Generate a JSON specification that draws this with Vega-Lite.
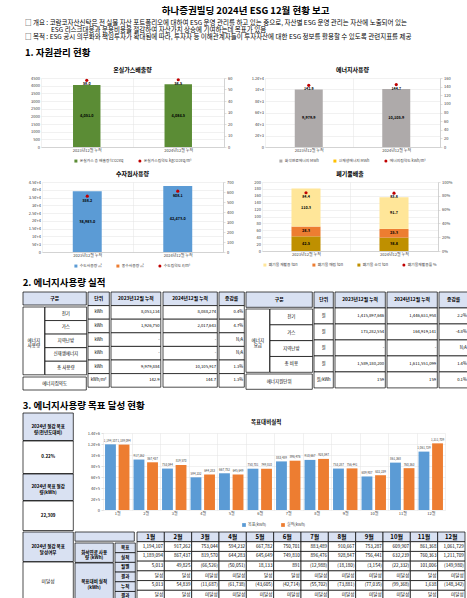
{
  "$schema": "https://vega.github.io/schema/vega-lite/v6.json",
  "background": "white",
  "padding": {"left": 22, "right": 2, "top": 5, "bottom": 0},
  "title": {"text": "하나증권빌딩 2024년 ESG 12월 현황 보고", "fontSize": 9.5, "fontWeight": "bold", "anchor": "middle", "offset": 5, "frame": "bounds"},
  "config": {
    "font": "Noto Sans CJK KR",
    "view": {"stroke": null},
    "title": {"font": "Noto Sans CJK KR", "color": "black", "fontSize": 6, "fontWeight": "bold", "frame": "group", "subtitleFont": "Noto Sans CJK KR"},
    "axis": {"labelFont": "Noto Sans CJK KR", "labelFontSize": 4, "labelColor": "#404040", "gridColor": "#e2e2e2", "gridWidth": 0.5, "domainColor": "#bfbfbf", "domainWidth": 0.6, "tickColor": "#bfbfbf", "tickSize": 2, "tickWidth": 0.5, "labelPadding": 1.5},
    "legend": {"labelFont": "Noto Sans CJK KR", "labelFontSize": 3.8, "labelColor": "#404040", "symbolSize": 9, "orient": "bottom", "direction": "horizontal", "columnPadding": 14, "symbolStrokeWidth": 0, "offset": 6, "labelOffset": 2, "layout": {"bottom": {"anchor": "middle"}}},
    "text": {"font": "Noto Sans CJK KR", "color": "black"}
  },
  "spacing": 10,
  "resolve": {"scale": {"color": "independent", "shape": "independent"}},
  "vconcat": [
    {
      "title": {"text": ["□ 개요 : 코람코자산신탁은 전 실물 자산 포트폴리오에 대하여 ESG 운영 관리를 하고 있는 중으로, 자산별 ESG 운영 관리는 자산에 노출되어 있는", "\u200b　　　　ESG 리스크대응과 운용비용을 절감하여 자산가치 상승에 기여하는데 목표가 있음", "□ 목적 : ESG 공시 의무화와 책임투자가 확대됨에 따라, 투자자 등 이해관계자들이 투자자산에 대한 ESG 정보를 활용할 수 있도록 관련지표를 제공"], "fontSize": 6.5, "fontWeight": "normal", "lineHeight": 6.8, "anchor": "start", "frame": "bounds", "offset": 10, "dx": 2, "subtitle": "1. 자원관리 현황", "subtitleFontSize": 9.5, "subtitleFontWeight": "bold", "subtitleColor": "black", "subtitlePadding": 7},
      "spacing": 8,
      "resolve": {"scale": {"color": "independent", "shape": "independent"}},
      "vconcat": [
        {
          "spacing": 6,
          "resolve": {"scale": {"color": "independent", "shape": "independent"}},
          "hconcat": [
            {"width": 1, "height": 1, "data": {"values": [{"a": 1}]}, "mark": {"type": "rect", "opacity": 0}},
            {
              "spacing": 19,
              "resolve": {"scale": {"color": "independent", "shape": "independent"}},
              "hconcat": [
                {
                  "width": 183, "height": 69,
                  "title": {"text": "온실가스배출량", "offset": 3},
                  "data": {"values": [
                    {"p": "2023년12월 누적", "s": "온실가스 총 배출량 tCO2eq", "v": 4051.0},
                    {"p": "2024년12월 누적", "s": "온실가스 총 배출량 tCO2eq", "v": 4084.5},
                    {"p": "2023년12월 누적", "s": "온실가스집약도 kgCO2eq/m²", "v": 58.0},
                    {"p": "2024년12월 누적", "s": "온실가스집약도 kgCO2eq/m²", "v": 58.5}
                  ]},
                  "encoding": {"x": {"field": "p", "type": "nominal", "sort": null, "scale": {"paddingInner": 0, "paddingOuter": 0}, "axis": {"title": null, "labelAngle": 0, "grid": true, "tickBand": "extent", "ticks": false}}},
                  "layer": [
                    {
                      "transform": [{"filter": "datum.s === '온실가스 총 배출량 tCO2eq'"}],
                      "encoding": {"y": {"field": "v", "type": "quantitative", "scale": {"domain": [0, 4500]}, "axis": {"title": null, "values": [0, 500, 1000, 1500, 2000, 2500, 3000, 3500, 4000, 4500], "format": "d", "domain": false, "ticks": false}}},
                      "layer": [
                        {"mark": {"type": "bar", "width": {"band": 0.3}}, "encoding": {"color": {"field": "s", "type": "nominal", "scale": {"domain": ["온실가스 총 배출량 tCO2eq", "온실가스집약도 kgCO2eq/m²"], "range": ["#5b8c35", "#c00000"]}, "legend": {"title": null}}}},
                        {"mark": {"type": "text", "fontSize": 3.8, "fontWeight": "bold", "dy": {"expr": "datum.v * 69 / 9000"}}, "encoding": {"text": {"field": "v", "format": ",.1f"}}}
                      ]
                    },
                    {
                      "transform": [{"filter": "datum.s === '온실가스집약도 kgCO2eq/m²'"}],
                      "encoding": {"y": {"field": "v", "type": "quantitative", "scale": {"domain": [0, 60]}, "axis": {"title": null, "orient": "right", "values": [0, 10, 20, 30, 40, 50, 60], "grid": false}}},
                      "layer": [
                        {"mark": {"type": "point", "filled": true, "size": 10, "opacity": 1}, "encoding": {
                          "color": {"field": "s", "type": "nominal", "scale": {"domain": ["온실가스 총 배출량 tCO2eq", "온실가스집약도 kgCO2eq/m²"], "range": ["#5b8c35", "#c00000"]}, "legend": {"title": null}},
                          "shape": {"field": "s", "type": "nominal", "scale": {"domain": ["온실가스 총 배출량 tCO2eq", "온실가스집약도 kgCO2eq/m²"], "range": ["square", "circle"]}, "legend": {"title": null}}}},
                        {"mark": {"type": "text", "fontSize": 3.6, "fontWeight": "bold", "dy": 4}, "encoding": {"text": {"field": "v", "format": ".1f"}}}
                      ]
                    }
                  ],
                  "resolve": {"scale": {"y": "independent"}}
                },
                {
                  "width": 175, "height": 69,
                  "title": {"text": "에너지사용량", "offset": 3},
                  "data": {"values": [
                    {"p": "2023년12월 누적", "s": "화석연료에너지 MWh", "v": 9979.9},
                    {"p": "2024년12월 누적", "s": "화석연료에너지 MWh", "v": 10105.9},
                    {"p": "2023년12월 누적", "s": "에너지집약도 kWh/m²", "v": 142.9},
                    {"p": "2024년12월 누적", "s": "에너지집약도 kWh/m²", "v": 144.7}
                  ]},
                  "encoding": {"x": {"field": "p", "type": "nominal", "sort": null, "scale": {"paddingInner": 0, "paddingOuter": 0}, "axis": {"title": null, "labelAngle": 0, "grid": true, "tickBand": "extent", "ticks": false}}},
                  "layer": [
                    {
                      "transform": [{"filter": "datum.s !== '에너지집약도 kWh/m²'"}],
                      "encoding": {"y": {"field": "v", "type": "quantitative", "scale": {"domain": [0, 12000]}, "axis": {"title": null, "values": [0, 2000, 4000, 6000, 8000, 10000, 12000], "format": ",", "domain": false, "ticks": false}}},
                      "layer": [
                        {"mark": {"type": "bar", "width": {"band": 0.32}}, "encoding": {"color": {"field": "s", "type": "nominal", "scale": {"domain": ["화석연료에너지 MWh", "신재생에너지 MWh", "에너지집약도 kWh/m²"], "range": ["#aeaaaa", "#ffc000", "#c00000"]}, "legend": {"title": null}}}},
                        {"mark": {"type": "text", "fontSize": 3.8, "fontWeight": "bold", "dy": {"expr": "datum.v * 69 / 24000"}}, "encoding": {"text": {"field": "v", "format": ",.1f"}}}
                      ]
                    },
                    {
                      "transform": [{"filter": "datum.s === '에너지집약도 kWh/m²'"}],
                      "encoding": {"y": {"field": "v", "type": "quantitative", "scale": {"domain": [0, 160]}, "axis": {"title": null, "orient": "right", "values": [0, 20, 40, 60, 80, 100, 120, 140, 160], "grid": false}}},
                      "layer": [
                        {"mark": {"type": "point", "filled": true, "size": 10, "opacity": 1}, "encoding": {
                          "color": {"field": "s", "type": "nominal", "scale": {"domain": ["화석연료에너지 MWh", "신재생에너지 MWh", "에너지집약도 kWh/m²"], "range": ["#aeaaaa", "#ffc000", "#c00000"]}, "legend": {"title": null}},
                          "shape": {"field": "s", "type": "nominal", "scale": {"domain": ["화석연료에너지 MWh", "신재생에너지 MWh", "에너지집약도 kWh/m²"], "range": ["square", "square", "circle"]}, "legend": {"title": null}}}},
                        {"mark": {"type": "text", "fontSize": 3.6, "fontWeight": "bold", "dy": 4}, "encoding": {"text": {"field": "v", "format": ".1f"}}}
                      ]
                    }
                  ],
                  "resolve": {"scale": {"y": "independent"}}
                }
              ]
            }
          ]
        },
        {
          "spacing": 4,
          "resolve": {"scale": {"color": "independent", "shape": "independent"}},
          "hconcat": [
            {"width": 1, "height": 1, "data": {"values": [{"a": 1}]}, "mark": {"type": "rect", "opacity": 0}},
            {
              "spacing": 19,
              "resolve": {"scale": {"color": "independent", "shape": "independent"}},
              "hconcat": [
                {
                  "width": 181, "height": 70,
                  "title": {"text": "수자원사용량", "offset": 3},
                  "data": {"values": [
                    {"p": "2023년12월 누적", "s": "수도사용량 ㎥", "v": 38983.0},
                    {"p": "2024년12월 누적", "s": "수도사용량 ㎥", "v": 42473.0},
                    {"p": "2023년12월 누적", "s": "수도집약도 ℓ/m²", "v": 558.2},
                    {"p": "2024년12월 누적", "s": "수도집약도 ℓ/m²", "v": 608.1}
                  ]},
                  "encoding": {"x": {"field": "p", "type": "nominal", "sort": null, "scale": {"paddingInner": 0, "paddingOuter": 0}, "axis": {"title": null, "labelAngle": 0, "grid": true, "tickBand": "extent", "ticks": false}}},
                  "layer": [
                    {
                      "transform": [{"filter": "datum.s === '수도사용량 ㎥'"}],
                      "encoding": {"y": {"field": "v", "type": "quantitative", "scale": {"domain": [0, 45000]}, "axis": {"title": null, "values": [0, 5000, 10000, 15000, 20000, 25000, 30000, 35000, 40000, 45000], "format": ",", "domain": false, "ticks": false}}},
                      "layer": [
                        {"mark": {"type": "bar", "width": {"band": 0.32}}, "encoding": {"color": {"field": "s", "type": "nominal", "scale": {"domain": ["수도사용량 ㎥", "중수사용량 ㎥", "수도집약도 ℓ/m²"], "range": ["#5b9bd5", "#ed7d31", "#c00000"]}, "legend": {"title": null}}}},
                        {"mark": {"type": "text", "fontSize": 3.8, "fontWeight": "bold", "dy": {"expr": "datum.v * 70 / 90000"}}, "encoding": {"text": {"field": "v", "format": ",.1f"}}}
                      ]
                    },
                    {
                      "transform": [{"filter": "datum.s === '수도집약도 ℓ/m²'"}],
                      "encoding": {"y": {"field": "v", "type": "quantitative", "scale": {"domain": [0, 700]}, "axis": {"title": null, "orient": "right", "values": [0, 100, 200, 300, 400, 500, 600, 700], "grid": false}}},
                      "layer": [
                        {"mark": {"type": "point", "filled": true, "size": 10, "opacity": 1}, "encoding": {
                          "color": {"field": "s", "type": "nominal", "scale": {"domain": ["수도사용량 ㎥", "중수사용량 ㎥", "수도집약도 ℓ/m²"], "range": ["#5b9bd5", "#ed7d31", "#c00000"]}, "legend": {"title": null}},
                          "shape": {"field": "s", "type": "nominal", "scale": {"domain": ["수도사용량 ㎥", "중수사용량 ㎥", "수도집약도 ℓ/m²"], "range": ["square", "square", "circle"]}, "legend": {"title": null}}}},
                        {"mark": {"type": "text", "fontSize": 3.6, "fontWeight": "bold", "dy": 4.5}, "encoding": {"text": {"field": "v", "format": ".1f"}}}
                      ]
                    }
                  ],
                  "resolve": {"scale": {"y": "independent"}}
                },
                {
                  "width": 176, "height": 69,
                  "title": {"text": "폐기물배출", "offset": 3},
                  "data": {"values": [
                    {"p": "2023년12월 누적", "type": "incineration", "s": "폐기물 소각 ton", "v": 42.5},
                    {"p": "2023년12월 누적", "type": "landfill", "s": "폐기물 매립 ton", "v": 28.3},
                    {"p": "2023년12월 누적", "type": "recycling", "s": "폐기물 재활용 ton", "v": 110.3},
                    {"p": "2024년12월 누적", "type": "incineration", "s": "폐기물 소각 ton", "v": 38.8},
                    {"p": "2024년12월 누적", "type": "landfill", "s": "폐기물 매립 ton", "v": 25.3},
                    {"p": "2024년12월 누적", "type": "recycling", "s": "폐기물 재활용 ton", "v": 91.7},
                    {"p": "2023년12월 누적", "type": "rate", "s": "폐기물재활용률 %", "v": 84.4},
                    {"p": "2024년12월 누적", "type": "rate", "s": "폐기물재활용률 %", "v": 83.8}
                  ]},
                  "encoding": {"x": {"field": "p", "type": "nominal", "sort": null, "scale": {"paddingInner": 0, "paddingOuter": 0}, "axis": {"title": null, "labelAngle": 0, "grid": true, "tickBand": "extent", "ticks": false}}},
                  "layer": [
                    {
                      "transform": [{"filter": "datum.type !== 'rate'"}],
                      "encoding": {"y": {"field": "v", "type": "quantitative", "stack": "zero", "scale": {"domain": [0, 200]}, "axis": {"title": null, "values": [0, 20, 40, 60, 80, 100, 120, 140, 160, 180, 200], "format": "d", "domain": false, "ticks": false}}, "order": {"field": "type", "sort": "ascending"}},
                      "layer": [
                        {"mark": {"type": "bar", "width": {"band": 0.33}}, "encoding": {"color": {"field": "s", "type": "nominal", "scale": {"domain": ["폐기물 재활용 ton", "폐기물 매립 ton", "폐기물 소각 ton", "폐기물재활용률 %"], "range": ["#ffe699", "#ed7d31", "#bf9000", "#c00000"]}, "legend": {"title": null}}}},
                        {"mark": {"type": "text", "fontSize": 3.8, "fontWeight": "bold", "dy": {"expr": "datum.v * 69 / 400"}}, "encoding": {"detail": {"field": "s"}, "text": {"field": "v", "format": ".1f"}}}
                      ]
                    },
                    {
                      "transform": [{"filter": "datum.type === 'rate'"}],
                      "encoding": {"y": {"field": "v", "type": "quantitative", "scale": {"domain": [0, 100]}, "axis": {"title": null, "orient": "right", "values": [0, 20, 40, 60, 80, 100], "labelExpr": "datum.value + '%'", "grid": false}}},
                      "layer": [
                        {"mark": {"type": "point", "filled": true, "size": 10, "opacity": 1}, "encoding": {
                          "color": {"field": "s", "type": "nominal", "scale": {"domain": ["폐기물 재활용 ton", "폐기물 매립 ton", "폐기물 소각 ton", "폐기물재활용률 %"], "range": ["#ffe699", "#ed7d31", "#bf9000", "#c00000"]}, "legend": {"title": null}},
                          "shape": {"field": "s", "type": "nominal", "scale": {"domain": ["폐기물 재활용 ton", "폐기물 매립 ton", "폐기물 소각 ton", "폐기물재활용률 %"], "range": ["square", "square", "square", "circle"]}, "legend": {"title": null}}}},
                        {"mark": {"type": "text", "fontSize": 3.6, "fontWeight": "bold", "dy": 4}, "encoding": {"text": {"field": "v", "format": ".1f"}}}
                      ]
                    }
                  ],
                  "resolve": {"scale": {"y": "independent"}}
                }
              ]
            }
          ]
        }
      ]
    },
    {
      "title": {"text": "2. 에너지사용량 실적", "fontSize": 9.5, "fontWeight": "bold", "anchor": "start", "frame": "bounds", "offset": 4},
      "spacing": 0,
      "hconcat": [
        {
          "spacing": 0,
          "hconcat": [
            {
              "spacing": 0,
              "vconcat": [
                {"width": 63.3, "height": 13, "data": {"values": [{"r": "x", "v": "구분"}]}, "encoding": {"y": {"field": "r", "type": "nominal", "scale": {"paddingInner": 0, "paddingOuter": 0}, "axis": null}}, "layer": [{"mark": {"type": "rect", "stroke": "#000", "strokeWidth": 0.7, "fill": "#d9e1f2"}}, {"mark": {"type": "text", "fontSize": 4.8, "fontWeight": "bold"}, "encoding": {"text": {"field": "v"}}}]},
                {
                  "bounds": "flush",
                  "spacing": 0,
                  "hconcat": [
                    {"width": 21.65, "height": 67.8, "data": {"values": [{"r": "x", "v": "에너지\n사용량"}]}, "encoding": {"y": {"field": "r", "type": "nominal", "scale": {"paddingInner": 0, "paddingOuter": 0}, "axis": null}}, "layer": [{"mark": {"type": "rect", "stroke": "#000", "strokeWidth": 0.7, "fill": "#ffffff"}}, {"mark": {"type": "text", "fontSize": 4.5, "lineBreak": "\n", "lineHeight": 5.6}, "encoding": {"text": {"field": "v"}}}]},
                    {
                      "width": 41.65, "height": 67.8,
                      "data": {"values": [{"r": "1", "v": "전기"}, {"r": "2", "v": "가스"}, {"r": "3", "v": "지역난방"}, {"r": "4", "v": "신재생에너지"}, {"r": "5", "v": "총 사용량"}]},
                      "encoding": {"y": {"field": "r", "type": "ordinal", "scale": {"domain": ["1", "2", "3", "4", "5"], "paddingInner": 0, "paddingOuter": 0}, "axis": null}},
                      "layer": [
                        {"mark": {"type": "rect", "stroke": "#000", "strokeWidth": 0.7, "fill": "#ffffff"}},
                        {"mark": {"type": "text", "fontSize": 4.5}, "encoding": {"text": {"field": "v"}}}
                      ]
                    }
                  ]
                },
                {"width": 63.3, "height": 13, "data": {"values": [{"r": "x", "v": "에너지집약도"}]}, "encoding": {"y": {"field": "r", "type": "nominal", "scale": {"paddingInner": 0, "paddingOuter": 0}, "axis": null}}, "layer": [{"mark": {"type": "rect", "stroke": "#000", "strokeWidth": 0.7, "fill": "#ffffff"}}, {"mark": {"type": "text", "fontSize": 4.5}, "encoding": {"text": {"field": "v"}}}]}
              ]
            },
            {
              "width": 21.3, "height": 95.2,
              "data": {"values": [{"r": "h", "v": "단위"}, {"r": "1", "v": "kWh"}, {"r": "2", "v": "kWh"}, {"r": "3", "v": "kWh"}, {"r": "4", "v": "kWh"}, {"r": "5", "v": "kWh"}, {"r": "6", "v": "kWh/m²"}]},
              "encoding": {"y": {"field": "r", "type": "ordinal", "scale": {"domain": ["h", "1", "2", "3", "4", "5", "6"], "paddingInner": 0, "paddingOuter": 0}, "axis": null}},
              "layer": [
                {"mark": {"type": "rect", "stroke": "#000", "strokeWidth": 0.7}, "encoding": {"fill": {"condition": {"test": "datum.r === 'h'", "value": "#d9e1f2"}, "value": "#ffffff"}}},
                {"transform": [{"filter": "datum.r === 'h'"}], "mark": {"type": "text", "fontSize": 4.8, "fontWeight": "bold"}, "encoding": {"text": {"field": "v"}}},
                {"transform": [{"filter": "datum.r !== 'h'"}], "mark": {"type": "text", "fontSize": 4.2}, "encoding": {"text": {"field": "v"}}}
              ]
            },
            {
              "width": 49.8, "height": 95.2,
              "data": {"values": [{"r": "h", "v": "2023년12월 누적"}, {"r": "1", "v": "8,053,134"}, {"r": "2", "v": "1,926,750"}, {"r": "3", "v": "-"}, {"r": "4", "v": "-"}, {"r": "5", "v": "9,979,884"}, {"r": "6", "v": "142.9"}]},
              "encoding": {"y": {"field": "r", "type": "ordinal", "scale": {"domain": ["h", "1", "2", "3", "4", "5", "6"], "paddingInner": 0, "paddingOuter": 0}, "axis": null}},
              "layer": [
                {"mark": {"type": "rect", "stroke": "#000", "strokeWidth": 0.7}, "encoding": {"fill": {"condition": {"test": "datum.r === 'h'", "value": "#d9e1f2"}, "value": "#ffffff"}}},
                {"transform": [{"filter": "datum.r === 'h'"}], "mark": {"type": "text", "fontSize": 4.8, "fontWeight": "bold"}, "encoding": {"text": {"field": "v"}}},
                {"transform": [{"filter": "datum.r !== 'h'"}], "mark": {"type": "text", "fontSize": 4.2, "align": "right", "dx": -1.2}, "encoding": {"x": {"datum": 1, "type": "quantitative", "scale": {"domain": [0, 1]}, "axis": null}, "text": {"field": "v"}}}
              ]
            },
            {
              "width": 54.3, "height": 95.2,
              "data": {"values": [{"r": "h", "v": "2024년12월 누적"}, {"r": "1", "v": "8,088,274"}, {"r": "2", "v": "2,017,643"}, {"r": "3", "v": "-"}, {"r": "4", "v": "-"}, {"r": "5", "v": "10,105,917"}, {"r": "6", "v": "144.7"}]},
              "encoding": {"y": {"field": "r", "type": "ordinal", "scale": {"domain": ["h", "1", "2", "3", "4", "5", "6"], "paddingInner": 0, "paddingOuter": 0}, "axis": null}},
              "layer": [
                {"mark": {"type": "rect", "stroke": "#000", "strokeWidth": 0.7}, "encoding": {"fill": {"condition": {"test": "datum.r === 'h'", "value": "#d9e1f2"}, "value": "#ffffff"}}},
                {"transform": [{"filter": "datum.r === 'h'"}], "mark": {"type": "text", "fontSize": 4.8, "fontWeight": "bold"}, "encoding": {"text": {"field": "v"}}},
                {"transform": [{"filter": "datum.r !== 'h'"}], "mark": {"type": "text", "fontSize": 4.2, "align": "right", "dx": -1.2}, "encoding": {"x": {"datum": 1, "type": "quantitative", "scale": {"domain": [0, 1]}, "axis": null}, "text": {"field": "v"}}}
              ]
            },
            {
              "width": 25.3, "height": 95.2,
              "data": {"values": [{"r": "h", "v": "증감률"}, {"r": "1", "v": "0.4%"}, {"r": "2", "v": "4.7%"}, {"r": "3", "v": "N/A"}, {"r": "4", "v": "N/A"}, {"r": "5", "v": "1.3%"}, {"r": "6", "v": "1.3%"}]},
              "encoding": {"y": {"field": "r", "type": "ordinal", "scale": {"domain": ["h", "1", "2", "3", "4", "5", "6"], "paddingInner": 0, "paddingOuter": 0}, "axis": null}},
              "layer": [
                {"mark": {"type": "rect", "stroke": "#000", "strokeWidth": 0.7}, "encoding": {"fill": {"condition": {"test": "datum.r === 'h'", "value": "#d9e1f2"}, "value": "#ffffff"}}},
                {"transform": [{"filter": "datum.r === 'h'"}], "mark": {"type": "text", "fontSize": 4.8, "fontWeight": "bold"}, "encoding": {"text": {"field": "v"}}},
                {"transform": [{"filter": "datum.r !== 'h'"}], "mark": {"type": "text", "fontSize": 4.2, "align": "right", "dx": -1.2}, "encoding": {"x": {"datum": 1, "type": "quantitative", "scale": {"domain": [0, 1]}, "axis": null}, "text": {"field": "v"}}}
              ]
            }
          ]
        },
        {
          "spacing": 0,
          "hconcat": [
            {
              "spacing": 0,
              "vconcat": [
                {"width": 66.3, "height": 15.3, "data": {"values": [{"r": "x", "v": "구분"}]}, "encoding": {"y": {"field": "r", "type": "nominal", "scale": {"paddingInner": 0, "paddingOuter": 0}, "axis": null}}, "layer": [{"mark": {"type": "rect", "stroke": "#000", "strokeWidth": 0.7, "fill": "#d9e1f2"}}, {"mark": {"type": "text", "fontSize": 4.8, "fontWeight": "bold"}, "encoding": {"text": {"field": "v"}}}]},
                {
                  "bounds": "flush",
                  "spacing": 0,
                  "hconcat": [
                    {"width": 23.65, "height": 63.3, "data": {"values": [{"r": "x", "v": "에너지\n요금"}]}, "encoding": {"y": {"field": "r", "type": "nominal", "scale": {"paddingInner": 0, "paddingOuter": 0}, "axis": null}}, "layer": [{"mark": {"type": "rect", "stroke": "#000", "strokeWidth": 0.7, "fill": "#ffffff"}}, {"mark": {"type": "text", "fontSize": 4.5, "lineBreak": "\n", "lineHeight": 5.6}, "encoding": {"text": {"field": "v"}}}]},
                    {
                      "width": 42.65, "height": 63.3,
                      "data": {"values": [{"r": "1", "v": "전기"}, {"r": "2", "v": "가스"}, {"r": "3", "v": "지역난방"}, {"r": "4", "v": "총 비용"}]},
                      "encoding": {"y": {"field": "r", "type": "ordinal", "scale": {"domain": ["1", "2", "3", "4"], "paddingInner": 0, "paddingOuter": 0}, "axis": null}},
                      "layer": [
                        {"mark": {"type": "rect", "stroke": "#000", "strokeWidth": 0.7, "fill": "#ffffff"}},
                        {"mark": {"type": "text", "fontSize": 4.5}, "encoding": {"text": {"field": "v"}}}
                      ]
                    }
                  ]
                },
                {"width": 66.3, "height": 15.3, "data": {"values": [{"r": "x", "v": "에너지원단위"}]}, "encoding": {"y": {"field": "r", "type": "nominal", "scale": {"paddingInner": 0, "paddingOuter": 0}, "axis": null}}, "layer": [{"mark": {"type": "rect", "stroke": "#000", "strokeWidth": 0.7, "fill": "#ffffff"}}, {"mark": {"type": "text", "fontSize": 4.5}, "encoding": {"text": {"field": "v"}}}]}
              ]
            },
            {
              "width": 19.3, "height": 95.9,
              "data": {"values": [{"r": "h", "v": "단위"}, {"r": "1", "v": "원"}, {"r": "2", "v": "원"}, {"r": "3", "v": "원"}, {"r": "4", "v": "원"}, {"r": "5", "v": "원/kWh"}]},
              "encoding": {"y": {"field": "r", "type": "ordinal", "scale": {"domain": ["h", "1", "2", "3", "4", "5"], "paddingInner": 0, "paddingOuter": 0}, "axis": null}},
              "layer": [
                {"mark": {"type": "rect", "stroke": "#000", "strokeWidth": 0.7}, "encoding": {"fill": {"condition": {"test": "datum.r === 'h'", "value": "#d9e1f2"}, "value": "#ffffff"}}},
                {"transform": [{"filter": "datum.r === 'h'"}], "mark": {"type": "text", "fontSize": 4.8, "fontWeight": "bold"}, "encoding": {"text": {"field": "v"}}},
                {"transform": [{"filter": "datum.r !== 'h'"}], "mark": {"type": "text", "fontSize": 4.2}, "encoding": {"text": {"field": "v"}}}
              ]
            },
            {
              "width": 50.3, "height": 95.9,
              "data": {"values": [{"r": "h", "v": "2023년12월 누적"}, {"r": "1", "v": "1,415,897,646"}, {"r": "2", "v": "173,282,554"}, {"r": "3", "v": "-"}, {"r": "4", "v": "1,589,180,200"}, {"r": "5", "v": "159"}]},
              "encoding": {"y": {"field": "r", "type": "ordinal", "scale": {"domain": ["h", "1", "2", "3", "4", "5"], "paddingInner": 0, "paddingOuter": 0}, "axis": null}},
              "layer": [
                {"mark": {"type": "rect", "stroke": "#000", "strokeWidth": 0.7}, "encoding": {"fill": {"condition": {"test": "datum.r === 'h'", "value": "#d9e1f2"}, "value": "#ffffff"}}},
                {"transform": [{"filter": "datum.r === 'h'"}], "mark": {"type": "text", "fontSize": 4.8, "fontWeight": "bold"}, "encoding": {"text": {"field": "v"}}},
                {"transform": [{"filter": "datum.r !== 'h'"}], "mark": {"type": "text", "fontSize": 4.2, "align": "right", "dx": -1.2}, "encoding": {"x": {"datum": 1, "type": "quantitative", "scale": {"domain": [0, 1]}, "axis": null}, "text": {"field": "v"}}}
              ]
            },
            {
              "width": 50.3, "height": 95.9,
              "data": {"values": [{"r": "h", "v": "2024년12월 누적"}, {"r": "1", "v": "1,446,631,958"}, {"r": "2", "v": "164,919,141"}, {"r": "3", "v": "-"}, {"r": "4", "v": "1,611,551,099"}, {"r": "5", "v": "159"}]},
              "encoding": {"y": {"field": "r", "type": "ordinal", "scale": {"domain": ["h", "1", "2", "3", "4", "5"], "paddingInner": 0, "paddingOuter": 0}, "axis": null}},
              "layer": [
                {"mark": {"type": "rect", "stroke": "#000", "strokeWidth": 0.7}, "encoding": {"fill": {"condition": {"test": "datum.r === 'h'", "value": "#d9e1f2"}, "value": "#ffffff"}}},
                {"transform": [{"filter": "datum.r === 'h'"}], "mark": {"type": "text", "fontSize": 4.8, "fontWeight": "bold"}, "encoding": {"text": {"field": "v"}}},
                {"transform": [{"filter": "datum.r !== 'h'"}], "mark": {"type": "text", "fontSize": 4.2, "align": "right", "dx": -1.2}, "encoding": {"x": {"datum": 1, "type": "quantitative", "scale": {"domain": [0, 1]}, "axis": null}, "text": {"field": "v"}}}
              ]
            },
            {
              "width": 29.3, "height": 95.9,
              "data": {"values": [{"r": "h", "v": "증감률"}, {"r": "1", "v": "2.2%"}, {"r": "2", "v": "-4.8%"}, {"r": "3", "v": "N/A"}, {"r": "4", "v": "1.4%"}, {"r": "5", "v": "0.1%"}]},
              "encoding": {"y": {"field": "r", "type": "ordinal", "scale": {"domain": ["h", "1", "2", "3", "4", "5"], "paddingInner": 0, "paddingOuter": 0}, "axis": null}},
              "layer": [
                {"mark": {"type": "rect", "stroke": "#000", "strokeWidth": 0.7}, "encoding": {"fill": {"condition": {"test": "datum.r === 'h'", "value": "#d9e1f2"}, "value": "#ffffff"}}},
                {"transform": [{"filter": "datum.r === 'h'"}], "mark": {"type": "text", "fontSize": 4.8, "fontWeight": "bold"}, "encoding": {"text": {"field": "v"}}},
                {"transform": [{"filter": "datum.r !== 'h'"}], "mark": {"type": "text", "fontSize": 4.2, "align": "right", "dx": -1.5}, "encoding": {"x": {"datum": 1, "type": "quantitative", "scale": {"domain": [0, 1]}, "axis": null}, "text": {"field": "v"}}}
              ]
            }
          ]
        }
      ]
    },
    {
      "title": {"text": "3. 에너지사용량 목표 달성 현황", "fontSize": 9.5, "fontWeight": "bold", "anchor": "start", "frame": "bounds", "offset": 2},
      "spacing": 0,
      "resolve": {"scale": {"color": "independent", "shape": "independent"}},
      "vconcat": [
        {
          "spacing": 13,
          "resolve": {"scale": {"color": "independent", "shape": "independent"}},
          "hconcat": [
            {
              "bounds": "flush",
              "spacing": 0,
              "vconcat": [
                {"width": 50.3, "height": 27.5, "data": {"values": [{"r": "x", "v": "2024년 절감 목표\n량(전년도대비)"}]}, "encoding": {"y": {"field": "r", "type": "nominal", "scale": {"paddingInner": 0, "paddingOuter": 0}, "axis": null}}, "layer": [{"mark": {"type": "rect", "stroke": "#000", "strokeWidth": 0.7, "fill": "#d9e1f2"}}, {"mark": {"type": "text", "fontSize": 4.5, "fontWeight": "bold", "lineBreak": "\n", "lineHeight": 5.8}, "encoding": {"text": {"field": "v"}}}]},
                {"width": 50.3, "height": 32.5, "data": {"values": [{"r": "x", "v": "0.22%"}]}, "encoding": {"y": {"field": "r", "type": "nominal", "scale": {"paddingInner": 0, "paddingOuter": 0}, "axis": null}}, "layer": [{"mark": {"type": "rect", "stroke": "#000", "strokeWidth": 0.7, "fill": "#ffffff"}}, {"mark": {"type": "text", "fontSize": 4.5, "fontWeight": "bold"}, "encoding": {"text": {"field": "v"}}}]},
                {"width": 50.3, "height": 26.5, "data": {"values": [{"r": "x", "v": "2024년 목표 절감\n량(kWh)"}]}, "encoding": {"y": {"field": "r", "type": "nominal", "scale": {"paddingInner": 0, "paddingOuter": 0}, "axis": null}}, "layer": [{"mark": {"type": "rect", "stroke": "#000", "strokeWidth": 0.7, "fill": "#d9e1f2"}}, {"mark": {"type": "text", "fontSize": 4.5, "fontWeight": "bold", "lineBreak": "\n", "lineHeight": 5.8}, "encoding": {"text": {"field": "v"}}}]},
                {"width": 50.3, "height": 29.5, "data": {"values": [{"r": "x", "v": "22,309"}]}, "encoding": {"y": {"field": "r", "type": "nominal", "scale": {"paddingInner": 0, "paddingOuter": 0}, "axis": null}}, "layer": [{"mark": {"type": "rect", "stroke": "#000", "strokeWidth": 0.7, "fill": "#ffffff"}}, {"mark": {"type": "text", "fontSize": 4.5, "fontWeight": "bold"}, "encoding": {"text": {"field": "v"}}}]}
              ]
            },
            {
              "spacing": 5,
              "resolve": {"scale": {"color": "independent", "shape": "independent"}},
              "vconcat": [
                {"width": 1, "height": 1, "data": {"values": [{"a": 1}]}, "mark": {"type": "rect", "opacity": 0}},
                {
                  "width": 342, "height": 77,
                  "title": {"text": "목표대비실적", "fontSize": 5.5, "frame": "bounds", "anchor": "middle", "offset": 6},
                  "data": {"values": [
                    {"m": "1월", "s": "목표(kWh)", "v": 1194107}, {"m": "1월", "s": "실적(kWh)", "v": 1189094},
                    {"m": "2월", "s": "목표(kWh)", "v": 917262}, {"m": "2월", "s": "실적(kWh)", "v": 867437},
                    {"m": "3월", "s": "목표(kWh)", "v": 753044}, {"m": "3월", "s": "실적(kWh)", "v": 819570},
                    {"m": "4월", "s": "목표(kWh)", "v": 594232}, {"m": "4월", "s": "실적(kWh)", "v": 644283},
                    {"m": "5월", "s": "목표(kWh)", "v": 667782}, {"m": "5월", "s": "실적(kWh)", "v": 645649},
                    {"m": "6월", "s": "목표(kWh)", "v": 750701}, {"m": "6월", "s": "실적(kWh)", "v": 749810},
                    {"m": "7월", "s": "목표(kWh)", "v": 883489}, {"m": "7월", "s": "실적(kWh)", "v": 896476},
                    {"m": "8월", "s": "목표(kWh)", "v": 910667}, {"m": "8월", "s": "실적(kWh)", "v": 928847},
                    {"m": "9월", "s": "목표(kWh)", "v": 753287}, {"m": "9월", "s": "실적(kWh)", "v": 756441},
                    {"m": "10월", "s": "목표(kWh)", "v": 609907}, {"m": "10월", "s": "실적(kWh)", "v": 632239},
                    {"m": "11월", "s": "목표(kWh)", "v": 861368}, {"m": "11월", "s": "실적(kWh)", "v": 760363},
                    {"m": "12월", "s": "목표(kWh)", "v": 1061729}, {"m": "12월", "s": "실적(kWh)", "v": 1211709}
                  ]},
                  "encoding": {
                    "x": {"field": "m", "type": "ordinal", "scale": {"domain": ["1월", "2월", "3월", "4월", "5월", "6월", "7월", "8월", "9월", "10월", "11월", "12월"], "paddingInner": 0, "paddingOuter": 0}, "axis": {"title": null, "labelAngle": 0, "grid": true, "tickBand": "extent", "ticks": false, "domain": false}},
                    "xOffset": {"field": "s", "type": "nominal", "scale": {"domain": ["목표(kWh)", "실적(kWh)"], "paddingInner": 0.2, "paddingOuter": 0.15}},
                    "y": {"field": "v", "type": "quantitative", "scale": {"domain": [0, 1400000]}, "axis": {"title": null, "values": [0, 200000, 400000, 600000, 800000, 1000000, 1200000, 1400000], "format": ",", "domain": false}}
                  },
                  "layer": [
                    {"mark": {"type": "bar"}, "encoding": {"color": {"field": "s", "type": "nominal", "scale": {"domain": ["목표(kWh)", "실적(kWh)"], "range": ["#5b9bd5", "#ed7d31"]}, "legend": {"title": null, "symbolType": "square", "labelFontSize": 4, "symbolSize": 14, "offset": 7}}}},
                    {"mark": {"type": "text", "fontSize": 3, "dy": -1.5, "baseline": "bottom", "color": "#404040"}, "encoding": {"text": {"field": "v", "format": ","}}}
                  ]
                }
              ]
            }
          ]
        },
        {
          "spacing": 0,
          "hconcat": [
            {
              "bounds": "flush",
              "spacing": 0,
              "vconcat": [
                {"width": 50.3, "height": 29.6, "data": {"values": [{"r": "x", "v": "2024년 절감 목표\n달성여부"}]}, "encoding": {"y": {"field": "r", "type": "nominal", "scale": {"paddingInner": 0, "paddingOuter": 0}, "axis": null}}, "layer": [{"mark": {"type": "rect", "stroke": "#000", "strokeWidth": 0.7, "fill": "#d9e1f2"}}, {"mark": {"type": "text", "fontSize": 4.5, "fontWeight": "bold", "lineBreak": "\n", "lineHeight": 5.8}, "encoding": {"text": {"field": "v"}}}]},
                {"width": 50.3, "height": 39.4, "data": {"values": [{"r": "x", "v": "미달성"}]}, "encoding": {"y": {"field": "r", "type": "nominal", "scale": {"paddingInner": 0, "paddingOuter": 0}, "axis": null}}, "layer": [{"mark": {"type": "rect", "stroke": "#000", "strokeWidth": 0.7, "fill": "#ffffff"}}, {"mark": {"type": "text", "fontSize": 4.8}, "encoding": {"text": {"field": "v"}}}]}
              ]
            },
            {
              "spacing": 0,
              "vconcat": [
                {"width": 59.3, "height": 9.16, "data": {"values": [{"r": "x", "v": " "}]}, "encoding": {"y": {"field": "r", "type": "nominal", "scale": {"paddingInner": 0, "paddingOuter": 0}, "axis": null}}, "layer": [{"mark": {"type": "rect", "stroke": "#000", "strokeWidth": 0.7, "fill": "#d9e1f2"}}, {"mark": {"type": "text", "fontSize": 4.5}, "encoding": {"text": {"field": "v"}}}]},
                {
                  "spacing": 0,
                  "hconcat": [
                    {
                      "bounds": "flush",
                      "spacing": 0,
                      "vconcat": [
                        {"width": 38.3, "height": 19.4, "data": {"values": [{"r": "x", "v": "화석연료 사용\n량 (kWh)"}]}, "encoding": {"y": {"field": "r", "type": "nominal", "scale": {"paddingInner": 0, "paddingOuter": 0}, "axis": null}}, "layer": [{"mark": {"type": "rect", "stroke": "#000", "strokeWidth": 0.7, "fill": "#d9e1f2"}}, {"mark": {"type": "text", "fontSize": 4.5, "fontWeight": "bold", "lineBreak": "\n", "lineHeight": 5.8}, "encoding": {"text": {"field": "v"}}}]},
                        {"width": 38.3, "height": 38.76, "data": {"values": [{"r": "x", "v": "목표대비 실적\n(kWh)"}]}, "encoding": {"y": {"field": "r", "type": "nominal", "scale": {"paddingInner": 0, "paddingOuter": 0}, "axis": null}}, "layer": [{"mark": {"type": "rect", "stroke": "#000", "strokeWidth": 0.7, "fill": "#d9e1f2"}}, {"mark": {"type": "text", "fontSize": 4.5, "fontWeight": "bold", "lineBreak": "\n", "lineHeight": 5.8}, "encoding": {"text": {"field": "v"}}}]}
                      ]
                    },
                    {
                      "width": 20.3, "height": 58.16,
                      "data": {"values": [{"r": "r1", "v": "목표"}, {"r": "r2", "v": "실적"}, {"r": "r3", "v": "월별"}, {"r": "r4", "v": "결과"}, {"r": "r5", "v": "누적"}, {"r": "r6", "v": "결과"}]},
                      "encoding": {"y": {"field": "r", "type": "ordinal", "scale": {"domain": ["r1", "r2", "r3", "r4", "r5", "r6"], "paddingInner": 0, "paddingOuter": 0}, "axis": null}},
                      "layer": [
                        {"mark": {"type": "rect", "stroke": "#000", "strokeWidth": 0.7, "fill": "#d9e1f2"}},
                        {"mark": {"type": "text", "fontSize": 4.5, "fontWeight": "bold"}, "encoding": {"text": {"field": "v"}}}
                      ]
                    }
                  ]
                }
              ]
            },
            {
              "width": 328, "height": 68.02,
              "data": {"values": [
                {"m": "1월", "h": "1월", "r1": "1,194,107", "r2": "1,189,094", "r3": "5,013", "r4": "달성", "r5": "5,013", "r6": "달성"},
                {"m": "2월", "h": "2월", "r1": "917,262", "r2": "867,437", "r3": "49,825", "r4": "달성", "r5": "54,839", "r6": "달성"},
                {"m": "3월", "h": "3월", "r1": "753,044", "r2": "819,570", "r3": "(66,526)", "r4": "미달성", "r5": "(11,687)", "r6": "미달성"},
                {"m": "4월", "h": "4월", "r1": "594,232", "r2": "644,283", "r3": "(50,051)", "r4": "미달성", "r5": "(61,738)", "r6": "미달성"},
                {"m": "5월", "h": "5월", "r1": "667,782", "r2": "645,649", "r3": "18,133", "r4": "달성", "r5": "(43,605)", "r6": "미달성"},
                {"m": "6월", "h": "6월", "r1": "750,701", "r2": "749,810", "r3": "891", "r4": "달성", "r5": "(42,714)", "r6": "미달성"},
                {"m": "7월", "h": "7월", "r1": "883,489", "r2": "896,476", "r3": "(12,988)", "r4": "미달성", "r5": "(55,702)", "r6": "미달성"},
                {"m": "8월", "h": "8월", "r1": "910,667", "r2": "928,847", "r3": "(18,180)", "r4": "미달성", "r5": "(73,881)", "r6": "미달성"},
                {"m": "9월", "h": "9월", "r1": "753,287", "r2": "756,441", "r3": "(3,154)", "r4": "미달성", "r5": "(77,035)", "r6": "미달성"},
                {"m": "10월", "h": "10월", "r1": "609,907", "r2": "632,239", "r3": "(22,332)", "r4": "미달성", "r5": "(99,368)", "r6": "미달성"},
                {"m": "11월", "h": "11월", "r1": "861,368", "r2": "760,363", "r3": "101,006", "r4": "달성", "r5": "1,638", "r6": "달성"},
                {"m": "12월", "h": "12월", "r1": "1,061,729", "r2": "1,211,709", "r3": "(149,980)", "r4": "미달성", "r5": "(148,342)", "r6": "미달성"}
              ]},
              "transform": [{"fold": ["h", "r1", "r2", "r3", "r4", "r5", "r6"], "as": ["r", "v"]}],
              "encoding": {
                "x": {"field": "m", "type": "ordinal", "scale": {"domain": ["1월", "2월", "3월", "4월", "5월", "6월", "7월", "8월", "9월", "10월", "11월", "12월"], "paddingInner": 0, "paddingOuter": 0}, "axis": null},
                "y": {"field": "r", "type": "ordinal", "scale": {"domain": ["h", "r1", "r2", "r3", "r4", "r5", "r6"], "paddingInner": 0, "paddingOuter": 0}, "axis": null}
              },
              "layer": [
                {"mark": {"type": "rect", "stroke": "#000", "strokeWidth": 0.7}, "encoding": {"fill": {"condition": {"test": "datum.r === 'h'", "value": "#d9e1f2"}, "value": "#ffffff"}}},
                {"transform": [{"filter": "datum.r === 'h'"}], "mark": {"type": "text", "fontSize": 6, "fontWeight": "bold"}, "encoding": {"text": {"field": "v"}}},
                {"transform": [{"filter": "datum.r !== 'h'"}], "mark": {"type": "text", "fontSize": 4.6, "align": "right", "dx": -1.2}, "encoding": {"x": {"field": "m", "type": "ordinal", "bandPosition": 1}, "text": {"field": "v"}}}
              ]
            }
          ]
        }
      ]
    }
  ]
}
